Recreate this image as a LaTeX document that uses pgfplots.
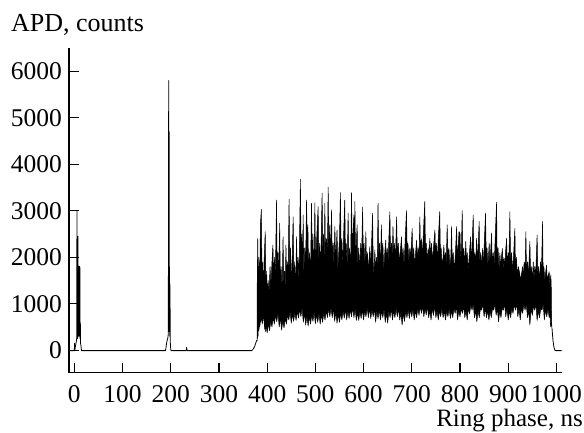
\documentclass[border=0pt]{standalone}
\usepackage{pgfplots}
\pgfplotsset{compat=1.18}
\usepackage{fontspec}
\setmainfont{Liberation Serif}
\newcommand{\tickfont}{\fontsize{25.5bp}{30bp}\selectfont}
\begin{document}
\tickfont
\begin{tikzpicture}[font=\tickfont]
\begin{axis}[
  name=ax,
  font=\tickfont,
  scale only axis, width=492.7bp, height=324.5bp,
  xmin=-11, xmax=1011, ymin=-480, ymax=6500,
  axis lines=left, axis line style={-, line width=1.2bp},
  tick align=inside, major tick length=10bp,
  tick style={line width=1.2bp, black},
  xtick={0,100,...,1000}, ytick={0,1000,...,6000},
  /pgf/number format/assume math mode=true,
  /pgf/number format/1000 sep={},
  every tick label/.append style={font=\tickfont},
  xticklabel style={yshift=-4bp},
  yticklabel style={xshift=1.5bp},
  clip=false,
]
% baseline trace with the narrow peaks
\addplot[black, line width=0.8bp, mark=none, line join=round] coordinates {
(-11,-10) (0,-10) (0.5,150) (1,-10) (2,60) (3,120) (4,180) (5,250) (5.5,3000) (6,300)
(6.5,1200) (7,250) (7.5,2450) (8,400) (8.5,1500) (9,300) (9.5,1810) (10,400) (10.5,1700)
(11,300) (11.5,1800) (12,250) (12.5,600) (13,150) (14,80) (15,-10)
(189,-10) (190,40) (191,120) (192,180) (193,230) (194,260) (195,350) (195.8,5800)
(196.3,400) (196.8,4700) (197.3,600) (197.7,1450) (198.1,300) (198.5,1400) (199,200)
(199.5,80) (200.5,-10) (232,-10) (233,60) (234,-10)
(368,-10) (370,10) (372,40) (374,80) (376,140) (378,200) (379,220)
};
\addplot[black, line width=0.8bp, mark=none, line join=round] coordinates {
(991,450) (993,200) (995,60) (997,0) (999,-10) (1011,-10)
};
% dense region: upper profile then lower envelope (reversed)
\addplot[draw=black, fill=black, line width=0.5bp, mark=none, line join=round] coordinates {
(379,200) (379.5,1500) (380.5,2400) (381.5,1300) (383,2000) (384.5,1200) (386,2700) (388,3030)
(389.5,1500) (391,1900) (392.5,1200) (394,2000) (396,2550) (397.5,1300) (399,1700) (400.5,1100)
(402,1500) (404,1200) (406,1800) (408,1400) (410,1900) (412,2260) (413.5,1400) (415,2000)
(417,1600) (419.5,3230) (421,1500) (422.5,2100) (424,1600) (426,2730) (427.5,1400) (429,1800)
(431,1300) (433,2440) (434.5,1400) (436,1700) (437.5,1300) (439,2260) (440.5,1500) (442,1900)
(443.5,1600) (445.5,3250) (447,1700) (448.5,2200) (450,1400) (452,2000) (454,2870) (455.5,1500)
(457,1900) (459,1300) (461,2440) (462.5,1600) (464,2000) (466,1500) (467.5,2600) (469,3680)
(470.5,2000) (472,2500) (473.5,1700) (474.7,2910) (476,1600) (478,2200) (480,1900) (481.7,3230)
(483,2400) (484.5,2700) (486,1700) (488,2100) (490,1600) (492,3160) (493.5,2000) (495,2500)
(496.5,1700) (498,2300) (499,3170) (500.5,1800) (502,2200) (504,2700) (505.8,3090) (507,1900)
(509,2300) (511,1700) (512.5,2600) (514,3380) (515.5,2100) (517,2500) (518.5,1800) (519.7,3160)
(521,2000) (523,2400) (525,2100) (526.6,3510) (528,2200) (530,2700) (531.5,1900) (533.6,3020)
(535,2000) (537,2300) (538.5,1800) (540.5,2660) (542,1900) (543.5,2200) (545,2590) (546.5,1700)
(548,2000) (550,2400) (552,3390) (553.5,2100) (555,2400) (557,1800) (559,2600) (561,3230)
(562.5,2000) (564,2300) (566,1800) (568,2950) (569.5,1900) (571,2200) (573,1700) (575,3390)
(576.5,2100) (578,2500) (580,2910) (581,2000) (582,3200) (583.5,1900) (585,2300) (586.7,2700)
(588,1800) (590,2200) (592,1700) (594,2300) (596,2000) (598,3080) (599.5,2000) (601,2300)
(603,1800) (604.8,2550) (606,1900) (608,2100) (610,1700) (613,2230) (614.5,1800) (616,2100)
(618.7,2950) (620,1900) (621.5,1600) (623.4,2160) (625,1700) (627,2000) (628.5,1800) (630,3160)
(631.5,2000) (633,2300) (635,1800) (637,2700) (638.5,2000) (640,2300) (642,1700) (644,2100)
(646,2370) (647.5,1800) (649,2200) (651,1900) (652.5,2400) (654.6,2980) (656,2000) (658,2300)
(659.5,2000) (661,2660) (662.5,2100) (664,2300) (666,1900) (668.5,2870) (670,2100) (672,2300)
(674,1900) (676,2100) (678.8,2440) (680,1900) (682,2200) (684,1800) (686,2300) (689,3000)
(690.5,2100) (692,2300) (694,1900) (696,2200) (698,2000) (700.8,2620) (702,2000) (704,2200)
(706,1800) (708,2100) (710,2370) (711.5,1900) (713,2200) (715,2000) (716.8,2870) (718,2100)
(720,2400) (722,2000) (724,2500) (727,3200) (728.5,2100) (730,2300) (732,1900) (734,2200)
(735.5,2000) (737.6,2410) (739,2000) (741,2300) (743,1900) (745,2200) (748,2590) (749.5,2000)
(751,2300) (753,1900) (755,2400) (758,2980) (759.5,2000) (761,2200) (763,1800) (765,2000)
(766.6,2260) (768,1900) (770,2100) (771.5,1800) (773.4,2700) (775,2000) (777,2200) (779,1800)
(781,2000) (782.5,2660) (784,1900) (786,2100) (788,1700) (790,2000) (791.5,2300) (793,2660)
(794.5,1900) (796,2200) (798,2550) (800,2520) (801.5,1900) (803,2200) (804.6,3000) (806,2000)
(808,2200) (810,1800) (812,2340) (813.5,1900) (815,2100) (817,1700) (819,2000) (822,2440)
(823.5,1900) (825,2200) (827.4,2910) (829,1900) (831,2100) (832.5,1800) (834.4,2410) (836,1900)
(838,2300) (839.8,2770) (841,1900) (843,2100) (845,1800) (846.9,2190) (848.5,1800) (850,2200)
(853,2950) (854.5,2000) (856,2200) (858,1800) (860.6,2300) (862,1900) (863.5,2100) (865.5,2520)
(867,1800) (869,2100) (871,1800) (873,2400) (875.9,3180) (877,2000) (879,2200) (881,1700)
(882.8,2090) (884,1800) (886,2000) (888,2190) (889.5,1700) (891,2000) (893,1800) (894.5,2100)
(896.7,2410) (898,1800) (900,2100) (901.5,1900) (903.5,2980) (905,1900) (907,2100) (909,1700)
(911,2000) (913.9,2620) (915,1800) (917,2000) (919,1600) (921,1800) (924,1650) (925.5,1500)
(927,1600) (930,1800) (931.5,1500) (933,1900) (935,1700) (936.7,2550) (938,1700) (940,1900)
(942,1600) (945,2340) (946.5,1600) (948,1800) (950,1500) (952,1900) (953.5,1500) (955,1800)
(957,1600) (960,2480) (961.5,1600) (963,1800) (965,1500) (967,1900) (969,1700) (971.3,2770)
(972.5,1600) (974,1800) (976,1500) (978,1700) (979.6,1830) (981,1500) (983,1600) (985,1690)
(986.5,1400) (988.5,1620) (989.5,1300) (990,600) (991,450)
(989.5,600) (988,500) (986.5,850) (985,700) (982.5,900) (980,720) (977.5,870) (975,650)
(972.5,1000) (970,860) (967.5,900) (965,700) (962.5,850) (960,640) (957.5,1000) (955,860)
(952.5,950) (950,750) (947.5,900) (945,540) (942.5,850) (940,700) (937.5,1000) (935,860)
(932.5,990) (930,790) (927.5,900) (925,650) (922.5,900) (920,720) (917.5,1000) (915,860)
(912.5,990) (910,790) (907.5,900) (905,700) (902.5,850) (900,650) (897.5,900) (895,720)
(892.5,1000) (890,860) (887.5,900) (885,700) (882.5,850) (880,610) (877.5,900) (875,750)
(872.5,1000) (870,860) (867.5,900) (865,700) (862.5,850) (860,650) (857.5,850) (855,700)
(852.5,900) (850,720) (847.5,1000) (845,860) (842.5,900) (840,700) (837.5,850) (835,610)
(832.5,850) (830,700) (827.5,1000) (825,860) (822.5,980) (820,780) (817.5,900) (815,650)
(812.5,850) (810,700) (807.5,950) (805,790) (802.5,900) (800,720) (797.5,850) (795,650)
(792.5,950) (790,790) (787.5,900) (785,700) (782.5,850) (780,680) (777.5,900) (775,720)
(772.5,850) (770,650) (767.5,850) (765,700) (762.5,900) (760,720) (757.5,850) (755,650)
(752.5,850) (750,700) (747.5,950) (745,750) (742.5,900) (740,650) (737.5,850) (735,700)
(732.5,950) (730,760) (727.5,900) (725,720) (722.5,950) (720,790) (717.5,950) (715,750)
(712.5,900) (710,700) (707.5,850) (705,650) (702.5,900) (700,720) (697.5,880) (695,680)
(692.5,880) (690,700) (687.5,850) (685,620) (682.5,800) (680,540) (677.5,800) (675,650)
(672.5,900) (670,720) (667.5,900) (665,700) (662.5,850) (660,650) (657.5,900) (655,700)
(652.5,850) (650,580) (647.5,800) (645,600) (642.5,900) (640,700) (637.5,850) (635,650)
(632.5,880) (630,680) (627.5,850) (625,600) (622.5,900) (620,720) (617.5,880) (615,680)
(612.5,900) (610,700) (607.5,920) (605,720) (602.5,850) (600,650) (597.5,880) (595,680)
(592.5,840) (590,640) (587.5,800) (585,640) (582.5,900) (580,700) (577.5,920) (575,720)
(572.5,880) (570,680) (567.5,850) (565,650) (562.5,890) (560,690) (557.5,850) (555,650)
(552.5,800) (550,600) (547.5,780) (545,580) (542.5,820) (540,620) (537.5,900) (535,700)
(532.5,920) (530,720) (527.5,900) (525,700) (522.5,850) (520,650) (517.5,800) (515,600)
(512.5,760) (510,560) (507.5,800) (505,600) (502.5,770) (500,570) (497.5,820) (495,620)
(492.5,760) (490,560) (487.5,720) (485,520) (482.5,740) (480,540) (477.5,800) (475,600)
(472.5,920) (470,720) (467.5,890) (465,690) (462.5,840) (460,640) (457.5,820) (455,620)
(452.5,780) (450,580) (447.5,850) (445,650) (442.5,760) (440,560) (437.5,680) (435,480)
(432.5,630) (430,430) (427.5,700) (425,500) (422.5,810) (420,610) (417.5,760) (415,560)
(412.5,700) (410,500) (407.5,620) (405,420) (402.5,570) (400,370) (398.5,550) (397,400)
(396,600) (395,450) (392.5,760) (390,560) (388.5,750) (387,600) (386,700) (385,500)
(384,650) (383,420) (382,500) (381,300) (379.5,250) (379,200)
};
\end{axis}
\node[anchor=base west, font=\fontsize{26bp}{30bp}\selectfont, inner sep=0pt] at ([xshift=-58bp,yshift=16.3bp]ax.north west) {APD, counts};
\node[anchor=base east, font=\fontsize{25bp}{30bp}\selectfont, inner sep=0pt] at ([xshift=21.3bp,yshift=-54.3bp]ax.south east) {Ring phase, ns};
\pgfresetboundingbox
\path ([xshift=-69bp,yshift=-60.3bp]ax.south west) rectangle ([xshift=22.3bp,yshift=48bp]ax.north east);
\end{tikzpicture}
\end{document}
